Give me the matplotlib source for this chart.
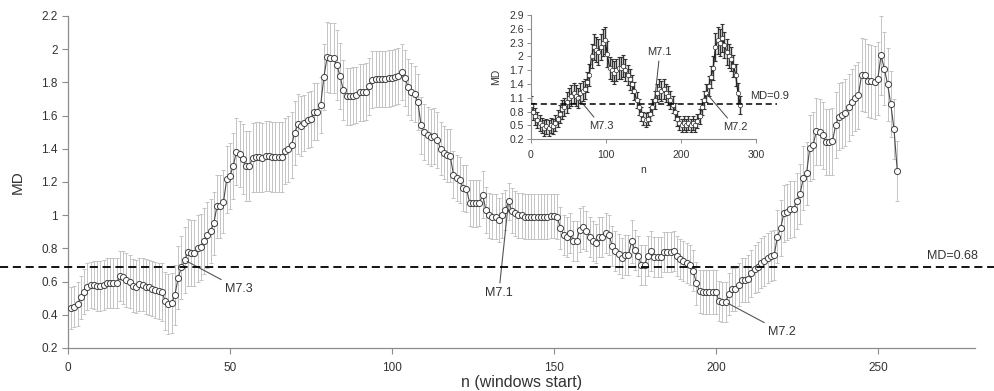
import numpy as np
import matplotlib
matplotlib.use("Agg")
import matplotlib.pyplot as plt
from matplotlib.ticker import FuncFormatter

plt.rcParams['font.family'] = ['Liberation Sans', 'DejaVu Sans']

# main series: MD for each window start n = 1..256
md = [
    0.44, 0.45, 0.465, 0.505, 0.54, 0.57, 0.58, 0.58, 0.575, 0.573,
    0.58, 0.59, 0.59, 0.59, 0.59, 0.636, 0.625, 0.61, 0.60, 0.575,
    0.57, 0.583, 0.58, 0.57, 0.565, 0.557, 0.55, 0.545, 0.539, 0.483,
    0.465, 0.47, 0.52, 0.622, 0.686, 0.73, 0.776, 0.774, 0.774, 0.80,
    0.81, 0.846, 0.88, 0.905, 0.951, 1.055, 1.055, 1.08, 1.216, 1.236,
    1.296, 1.383, 1.367, 1.339, 1.298, 1.298, 1.347, 1.35, 1.35, 1.347,
    1.355, 1.355, 1.35, 1.35, 1.35, 1.35, 1.387, 1.399, 1.423, 1.495,
    1.551, 1.539, 1.555, 1.575, 1.58, 1.624, 1.624, 1.664, 1.833, 1.953,
    1.949, 1.945, 1.905, 1.837, 1.752, 1.716, 1.716, 1.72, 1.724, 1.74,
    1.74, 1.744, 1.776, 1.817, 1.82, 1.82, 1.82, 1.82, 1.824, 1.828,
    1.833, 1.837, 1.861, 1.828, 1.772, 1.745, 1.73, 1.682, 1.541, 1.501,
    1.481, 1.469, 1.477, 1.453, 1.401, 1.377, 1.361, 1.357, 1.244, 1.224,
    1.212, 1.164, 1.16, 1.075, 1.071, 1.071, 1.075, 1.124, 1.031, 0.999,
    0.991, 0.991, 0.971, 0.999, 1.031, 1.084, 1.027, 1.011, 0.999, 0.999,
    0.991, 0.991, 0.991, 0.991, 0.991, 0.991, 0.991, 0.991, 0.995, 0.995,
    0.991, 0.923, 0.883, 0.871, 0.891, 0.847, 0.847, 0.911, 0.927, 0.905,
    0.871, 0.847, 0.83, 0.871, 0.871, 0.891, 0.883, 0.814, 0.782, 0.766,
    0.742, 0.758, 0.758, 0.843, 0.79, 0.754, 0.702, 0.702, 0.754, 0.782,
    0.746, 0.746, 0.746, 0.778, 0.778, 0.778, 0.786, 0.754, 0.734, 0.726,
    0.71, 0.702, 0.666, 0.59, 0.541, 0.537, 0.537, 0.537, 0.537, 0.537,
    0.481, 0.477, 0.477, 0.525, 0.553, 0.553, 0.582, 0.61, 0.61, 0.618,
    0.65, 0.674, 0.69, 0.71, 0.726, 0.742, 0.754, 0.758, 0.871, 0.923,
    1.011, 1.019, 1.035, 1.039, 1.084, 1.128, 1.224, 1.252, 1.405, 1.421,
    1.505, 1.501, 1.481, 1.441, 1.441, 1.445, 1.545, 1.594, 1.602, 1.618,
    1.65, 1.682, 1.706, 1.722, 1.847, 1.843, 1.811, 1.806, 1.802, 1.822,
    1.963, 1.883, 1.79, 1.67, 1.517, 1.268,
]

md_err = [
    0.125, 0.125, 0.13, 0.13, 0.135, 0.14, 0.14, 0.145, 0.15, 0.15,
    0.15, 0.15, 0.15, 0.15, 0.15, 0.15, 0.16, 0.16, 0.16, 0.16,
    0.16, 0.16, 0.16, 0.165, 0.165, 0.165, 0.17, 0.17, 0.175, 0.175,
    0.18, 0.18, 0.18, 0.19, 0.19, 0.2, 0.2, 0.2, 0.2, 0.2,
    0.2, 0.2, 0.2, 0.19, 0.19, 0.19, 0.19, 0.19, 0.2, 0.2,
    0.2, 0.2, 0.2, 0.21, 0.21, 0.21, 0.21, 0.21, 0.21, 0.21,
    0.21, 0.21, 0.21, 0.21, 0.21, 0.21, 0.2, 0.2, 0.2, 0.19,
    0.18, 0.18, 0.17, 0.17, 0.17, 0.17, 0.17, 0.17, 0.2, 0.21,
    0.21, 0.21, 0.21, 0.2, 0.18, 0.17, 0.17, 0.17, 0.17, 0.17,
    0.17, 0.17, 0.17, 0.17, 0.17, 0.17, 0.17, 0.17, 0.17, 0.17,
    0.17, 0.17, 0.17, 0.17, 0.17, 0.17, 0.17, 0.17, 0.17, 0.17,
    0.17, 0.17, 0.17, 0.17, 0.16, 0.16, 0.16, 0.16, 0.14, 0.14,
    0.14, 0.14, 0.14, 0.14, 0.14, 0.14, 0.14, 0.14, 0.14, 0.135,
    0.135, 0.135, 0.135, 0.135, 0.12, 0.11, 0.135, 0.135, 0.135, 0.135,
    0.135, 0.135, 0.135, 0.135, 0.135, 0.135, 0.135, 0.135, 0.135, 0.135,
    0.135, 0.125, 0.12, 0.12, 0.12, 0.12, 0.12, 0.13, 0.13, 0.12,
    0.12, 0.12, 0.12, 0.12, 0.12, 0.12, 0.12, 0.12, 0.12, 0.12,
    0.12, 0.12, 0.12, 0.13, 0.12, 0.12, 0.12, 0.12, 0.12, 0.12,
    0.12, 0.12, 0.12, 0.12, 0.12, 0.12, 0.12, 0.12, 0.12, 0.12,
    0.12, 0.12, 0.125, 0.13, 0.13, 0.13, 0.13, 0.13, 0.13, 0.13,
    0.12, 0.12, 0.12, 0.125, 0.13, 0.13, 0.13, 0.13, 0.135, 0.14,
    0.14, 0.145, 0.15, 0.15, 0.15, 0.15, 0.15, 0.15, 0.16, 0.17,
    0.17, 0.17, 0.17, 0.17, 0.17, 0.18, 0.19, 0.19, 0.2, 0.2,
    0.2, 0.2, 0.2, 0.2, 0.2, 0.2, 0.2, 0.2, 0.2, 0.2,
    0.2, 0.2, 0.2, 0.2, 0.22, 0.22, 0.22, 0.22, 0.22, 0.22,
    0.24, 0.22, 0.22, 0.2, 0.18, 0.18,
]

threshold = 0.69
threshold_label = 'MD=0.68'

# inset series (every 3rd window)
md_in = [
    0.95, 0.8, 0.7, 0.62, 0.55, 0.5, 0.45, 0.48, 0.45, 0.5,
    0.48, 0.55, 0.65, 0.75, 0.85, 0.9, 1.0, 1.1, 1.15, 1.2,
    1.15, 1.1, 1.2, 1.25, 1.3, 1.45, 1.6, 2.0, 2.2, 2.15,
    2.1, 2.2, 2.3, 2.35, 2.05, 1.75, 1.7, 1.65, 1.7, 1.75,
    1.75, 1.8, 1.7, 1.6, 1.5, 1.4, 1.25, 1.05, 0.9, 0.75,
    0.65, 0.62, 0.65, 0.75, 0.9, 1.05, 1.2, 1.3, 1.25, 1.3,
    1.2, 1.15, 1.05, 0.95, 0.8, 0.65, 0.55, 0.5, 0.55, 0.5,
    0.55, 0.5, 0.55, 0.5, 0.6, 0.7, 0.9, 1.05, 1.2, 1.35,
    1.55, 1.75, 2.2, 2.35, 2.3, 2.4, 2.25, 2.1, 2.0, 1.95,
    1.8, 1.6, 1.2, 0.95,
]
md_in_err = [
    0.2, 0.18, 0.18, 0.18, 0.18, 0.17, 0.17, 0.17, 0.17, 0.17,
    0.17, 0.18, 0.18, 0.2, 0.2, 0.2, 0.22, 0.22, 0.22, 0.22,
    0.22, 0.22, 0.22, 0.22, 0.22, 0.22, 0.24, 0.26, 0.28, 0.28,
    0.28, 0.28, 0.3, 0.3, 0.28, 0.24, 0.24, 0.24, 0.24, 0.24,
    0.24, 0.24, 0.24, 0.22, 0.22, 0.2, 0.2, 0.18, 0.18, 0.16,
    0.15, 0.15, 0.15, 0.16, 0.18, 0.2, 0.2, 0.22, 0.22, 0.22,
    0.2, 0.2, 0.2, 0.18, 0.18, 0.16, 0.15, 0.15, 0.15, 0.15,
    0.15, 0.15, 0.15, 0.15, 0.16, 0.16, 0.18, 0.2, 0.2, 0.22,
    0.24, 0.26, 0.3, 0.3, 0.3, 0.3, 0.28, 0.28, 0.26, 0.26,
    0.24, 0.24, 0.22, 0.2,
]
threshold_in = 0.97
threshold_in_label = 'MD=0.9'

n = np.arange(1, len(md) + 1)
n_in = np.arange(len(md_in)) * 3

text_c = '#333333'
spine_c = '#8c8c8c'

fig = plt.figure(figsize=(9.95, 3.91), dpi=100)
ax = fig.add_axes([68 / 995, 43 / 391, 907 / 995, 332 / 391])

ax.errorbar(n, md, yerr=md_err, fmt='none', ecolor='#c4c4c4', elinewidth=0.7,
            capsize=1.6, capthick=0.7, zorder=1)
ax.plot(n, md, '-', color='#4a4a4a', lw=0.8, zorder=2)
ax.plot(n, md, 'o', ms=4.4, mfc='white', mec='#404040', mew=0.7, zorder=3)

ax.set_xlim(0, 280)
ax.set_ylim(0.2, 2.2)
ax.set_xticks([0, 50, 100, 150, 200, 250])
ax.set_yticks(np.arange(0.2, 2.21, 0.2))
ax.yaxis.set_major_formatter(FuncFormatter(lambda v, p: f'{v:g}'))
for s in ['top', 'right']:
    ax.spines[s].set_visible(False)
for s in ['left', 'bottom']:
    ax.spines[s].set_color(spine_c)
    ax.spines[s].set_linewidth(0.9)
ax.tick_params(colors=spine_c, labelcolor=text_c, labelsize=8.5,
               length=4, width=0.8, direction='out')
ax.tick_params(axis='x', pad=6)
ax.set_xlabel('n (windows start)', fontsize=11.5, color=text_c, labelpad=1)
ax.set_ylabel('MD', fontsize=11, color=text_c, labelpad=12)

ax.axhline(threshold, xmin=-0.075, xmax=1.03, color='black', lw=1.3,
           ls=(0, (4.5, 2.6)), clip_on=False, zorder=4)
ax.annotate(threshold_label, xy=(273, threshold), xytext=(0, 3),
            textcoords='offset points', ha='center', va='bottom',
            fontsize=9, color=text_c)

arrow = dict(arrowstyle='-', color='#555555', lw=0.8, shrinkA=1, shrinkB=2)
ax.annotate('M7.3', xy=(n[35], md[35]), xytext=(48.5, 0.555), ha='left',
            va='center', fontsize=9, color=text_c, arrowprops=arrow)
ax.annotate('M7.1', xy=(n[135], md[135]), xytext=(133, 0.531), ha='center',
            va='center', fontsize=9, color=text_c, arrowprops=arrow)
ax.annotate('M7.2', xy=(n[202], md[202]), xytext=(220.4, 0.296), ha='center',
            va='center', fontsize=9, color=text_c, arrowprops=arrow)

# inset
axi = fig.add_axes([530.7 / 995, (391 - 139.3) / 391, 225.3 / 995, 124.3 / 391])
axi.errorbar(n_in, md_in, yerr=md_in_err, fmt='none', ecolor='#333333',
             elinewidth=1.0, capsize=1.3, capthick=0.8, zorder=1)
axi.plot(n_in, md_in, '-', color='#222222', lw=0.9, zorder=2)
axi.plot(n_in, md_in, 'o', ms=3.2, mfc='white', mec='#333333', mew=0.5, zorder=3)
axi.set_xlim(0, 300)
axi.set_ylim(0.2, 2.9)
axi.set_xticks([0, 100, 200, 300])
axi.set_yticks(np.arange(0.2, 2.91, 0.3))
axi.yaxis.set_major_formatter(FuncFormatter(lambda v, p: f'{round(v, 1):g}'))
axi.patch.set_alpha(0)
for s in ['top', 'right']:
    axi.spines[s].set_visible(False)
for s in ['left', 'bottom']:
    axi.spines[s].set_color(spine_c)
    axi.spines[s].set_linewidth(0.8)
axi.tick_params(colors=spine_c, labelcolor=text_c, labelsize=7.5,
                length=3, width=0.7, pad=2)
axi.tick_params(axis='x', pad=5)
axi.set_xlabel('n', fontsize=7.5, color=text_c, labelpad=3)
axi.set_ylabel('MD', fontsize=7.5, color=text_c, labelpad=6)

axi.plot([0, 328], [threshold_in, threshold_in], color='black', lw=1.1,
         ls=(0, (4, 2.4)), clip_on=False, zorder=4)
axi.annotate(threshold_in_label, xy=(318, threshold_in), xytext=(0, 2),
             textcoords='offset points', ha='center', va='bottom',
             fontsize=8, color=text_c, annotation_clip=False)
arrow_in = dict(arrowstyle='-', color='#444444', lw=0.7, shrinkA=1, shrinkB=1)
axi.annotate('M7.3', xy=(n_in[21], md_in[21]), xytext=(94, 0.49),
             ha='center', va='center', fontsize=8, color=text_c,
             arrowprops=arrow_in)
axi.annotate('M7.1', xy=(n_in[55], md_in[55]), xytext=(172, 2.1),
             ha='center', va='center', fontsize=8, color=text_c,
             arrowprops=arrow_in)
axi.annotate('M7.2', xy=(n_in[78], md_in[78]), xytext=(272, 0.47),
             ha='center', va='center', fontsize=8, color=text_c,
             arrowprops=arrow_in, annotation_clip=False)

fig.savefig('out.png', dpi=100)
